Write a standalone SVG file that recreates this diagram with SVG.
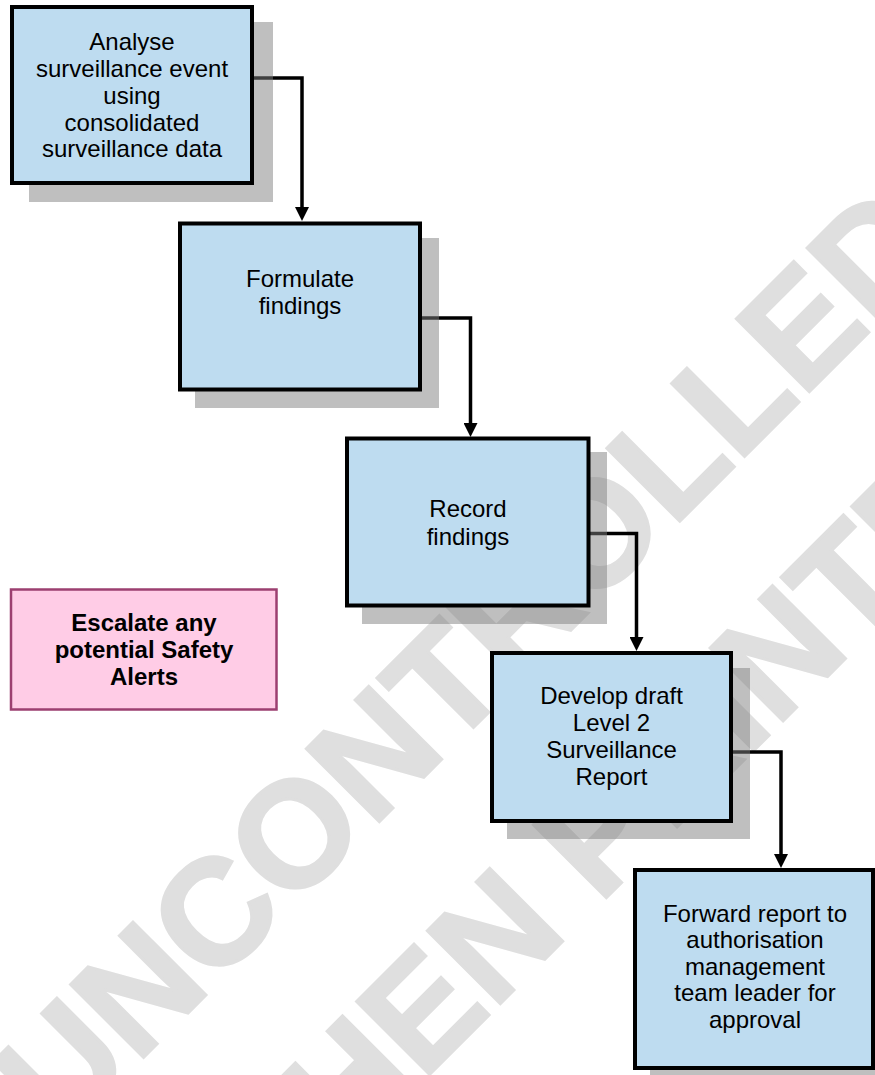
<svg xmlns="http://www.w3.org/2000/svg" width="875" height="1075" viewBox="0 0 875 1075">
  <style>
    .wm { font-family: "Liberation Sans", Arial, sans-serif; font-weight: bold; font-size: 150px; fill: #dfdfdf; stroke: #dfdfdf; stroke-width: 3; stroke-linejoin: miter; text-anchor: middle; }
    .shadow { fill: #808080; fill-opacity: 0.5; }
    .box { fill: #bedcf0; stroke: #000; stroke-width: 4; }
    .alert { fill: #ffcce6; stroke: #9c3f70; stroke-width: 2.5; }
    .lbl { font-family: "Liberation Sans", Arial, sans-serif; font-size: 24px; fill: #000; text-anchor: middle; }
    .lbl-b { font-family: "Liberation Sans", Arial, sans-serif; font-size: 24px; font-weight: bold; fill: #000; text-anchor: middle; }
    .conn { fill: none; stroke: #000; stroke-width: 3.5; marker-end: url(#arrow); }
  </style>
  <defs>
    <marker id="arrow" markerUnits="userSpaceOnUse" markerWidth="14" markerHeight="14" refX="2" refY="7" orient="auto">
      <path d="M0,0 L14,7 L0,14 z" fill="#000"/>
    </marker>
  </defs>

  <rect width="875" height="1075" fill="#fff"/>

  <!-- diagonal watermark -->
  <g id="watermark">
    <text class="wm" transform="translate(504.7,696.3) rotate(-45)">UNCONTROLLED</text>
    <text class="wm" transform="translate(655.3,848.8) rotate(-45)">WHEN PRINTED</text>
  </g>

  <!-- connectors -->
  <g id="connectors">
    <path class="conn" d="M252 78 H302 V209"/>
    <path class="conn" d="M420 318 H470.5 V425"/>
    <path class="conn" d="M588.5 533.5 H636.5 V639"/>
    <path class="conn" d="M731 752 H781 V856"/>
  </g>

  <g id="analyse">
    <rect class="shadow" x="29" y="22" width="244" height="180"/>
    <rect class="box" x="12" y="7" width="240" height="176"/>
    <text class="lbl" x="132" y="50">Analyse</text>
    <text class="lbl" x="132" y="77">surveillance event</text>
    <text class="lbl" x="132" y="104">using</text>
    <text class="lbl" x="132" y="130.5">consolidated</text>
    <text class="lbl" x="132" y="157">surveillance data</text>
  </g>

  <g id="formulate">
    <rect class="shadow" x="195" y="238" width="244" height="170"/>
    <rect class="box" x="180" y="223.5" width="240" height="166"/>
    <text class="lbl" x="300" y="287">Formulate</text>
    <text class="lbl" x="300" y="314">findings</text>
  </g>

  <g id="record">
    <rect class="shadow" x="362" y="452" width="245" height="172"/>
    <rect class="box" x="347" y="438.5" width="241.5" height="167"/>
    <text class="lbl" x="468" y="517">Record</text>
    <text class="lbl" x="468" y="544.5">findings</text>
  </g>

  <g id="develop">
    <rect class="shadow" x="507" y="668" width="243" height="171"/>
    <rect class="box" x="492" y="653" width="239" height="168"/>
    <text class="lbl" x="611.5" y="703.5">Develop draft</text>
    <text class="lbl" x="611.5" y="731">Level 2</text>
    <text class="lbl" x="611.5" y="758">Surveillance</text>
    <text class="lbl" x="611.5" y="785">Report</text>
  </g>

  <g id="forward">
    <rect class="shadow" x="650" y="885" width="242" height="204"/>
    <rect class="box" x="635" y="870" width="238" height="198"/>
    <text class="lbl" x="755" y="921.5">Forward report to</text>
    <text class="lbl" x="755" y="948">authorisation</text>
    <text class="lbl" x="755" y="974.5">management</text>
    <text class="lbl" x="755" y="1001">team leader for</text>
    <text class="lbl" x="755" y="1027.5">approval</text>
  </g>

  <g id="escalate">
    <rect class="alert" x="11" y="589.5" width="265.5" height="120"/>
    <text class="lbl-b" x="144" y="631">Escalate any</text>
    <text class="lbl-b" x="144" y="658">potential Safety</text>
    <text class="lbl-b" x="144" y="685">Alerts</text>
  </g>
</svg>
